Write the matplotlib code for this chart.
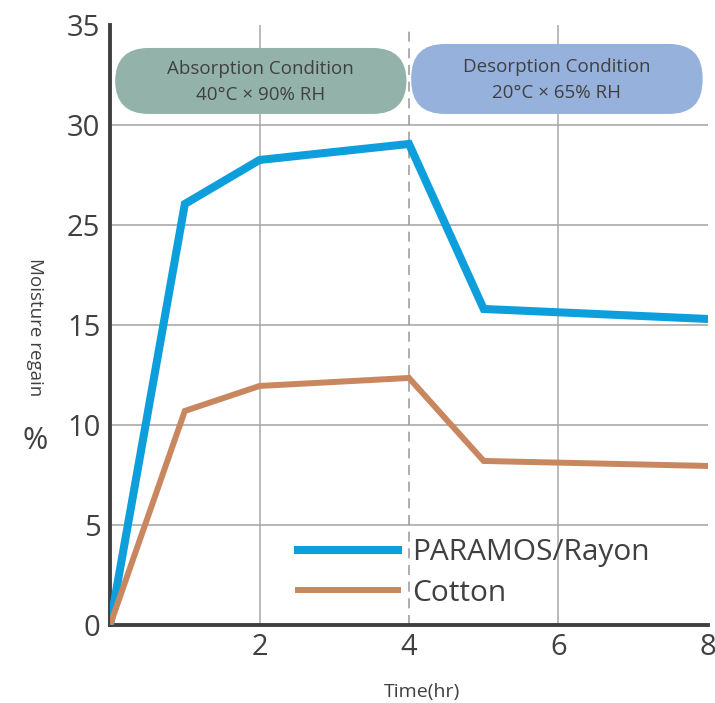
import numpy as np
import matplotlib
matplotlib.use("Agg")
import matplotlib.pyplot as plt
from matplotlib.patches import FancyBboxPatch

plt.rcParams['font.family'] = ['Open Sans', 'DejaVu Sans']

# data (y values as placed on the drawn axis, whose labels jump 15 -> 25)
hours = [0, 1, 2, 4, 5, 8]
paramos = [0, 21.05, 23.25, 24.05, 15.8, 15.3]
cotton = [0, 10.7, 11.95, 12.35, 8.2, 7.95]
y_tick_pos = [0, 5, 10, 15, 20, 25, 30]
y_tick_labels = ["0", "5", "10", "15", "25", "30", "35"]
x_ticks = [2, 4, 6, 8]

txt = '#404040'
blue = '#0d9fdc'
brown = '#c98760'

fig = plt.figure(figsize=(7.15, 7.03), dpi=100)
ax = fig.add_axes([0.154, 0.111, 0.836, 0.8535])
ax.set_xlim(0, 8)
ax.set_ylim(0, 30)

# grid
for y in y_tick_pos[1:-1]:
    ax.axhline(y, color='#b0b0b0', lw=1.3, zorder=0)
for x in [2, 6]:
    ax.axvline(x, color='#a8a8a8', lw=1.1, zorder=0)
ax.axvline(4, color='#a0a0a0', lw=1.2, ls=(0, (6, 4)), zorder=0)

ax.plot(hours, paramos, color=blue, lw=5.8, solid_joinstyle='miter', label='PARAMOS/Rayon', zorder=3)
ax.plot(hours, cotton, color=brown, lw=4.3, solid_joinstyle='miter', label='Cotton', zorder=3)

# condition boxes
boxes = [
    (0.067, 25.55, 3.9, 3.3, '#93b3aa', 'Absorption Condition\n40°C × 90% RH'),
    (4.03, 25.55, 3.9, 3.5, '#96b1db', 'Desorption Condition\n20°C × 65% RH'),
]
for bx, by, bw, bh, col, label in boxes:
    p = FancyBboxPatch((bx, by), bw, bh, boxstyle='round,pad=0,rounding_size=0.45',
                       mutation_aspect=3.75, fc=col, ec='none', zorder=2)
    ax.add_patch(p)
    ax.text(bx + bw / 2, by + bh / 2 - 0.05, label, ha='center', va='center', fontsize=13.5,
            color=txt, linespacing=1.6, zorder=4)

for s in ['top', 'right']:
    ax.spines[s].set_visible(False)
for s in ['left', 'bottom']:
    ax.spines[s].set_color('#404040')
    ax.spines[s].set_linewidth(2.8)

ax.set_yticks(y_tick_pos)
ax.set_yticklabels(y_tick_labels)
ax.set_xticks(x_ticks)
ax.tick_params(length=0, labelsize=21, labelcolor=txt)
ax.tick_params(axis='y', pad=7)
ax.tick_params(axis='x', pad=6)

leg = ax.legend(loc='upper left', bbox_to_anchor=(0.314, 0.145), frameon=False,
                fontsize=21.5, handlelength=3.35, handletextpad=0.47, labelspacing=0.4,
                borderpad=0, borderaxespad=0)
for t in leg.get_texts():
    t.set_color(txt)

fig.text(0.049, 0.535, 'Moisture regain', rotation=-90, ha='center', va='center',
         fontsize=13.5, color=txt)
fig.text(0.049, 0.372, '%', ha='center', va='center', fontsize=22, color=txt)
fig.text(0.59, 0.016, 'Time(hr)', ha='center', va='center', fontsize=14, color=txt)

fig.savefig('out.png', dpi=100)
